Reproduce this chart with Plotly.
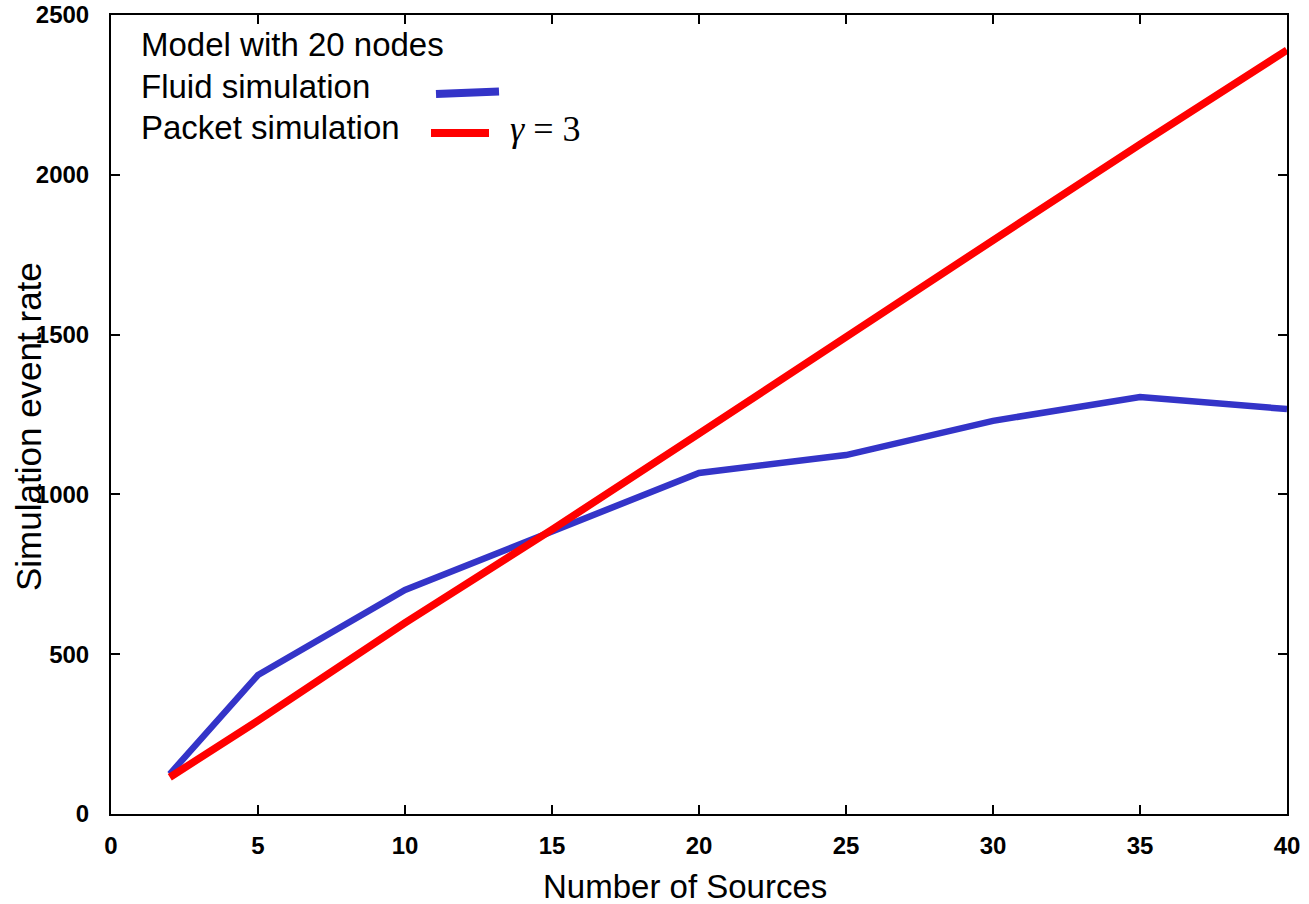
import plotly.graph_objects as go

# Data
fluid_x = [2, 5, 10, 15, 20, 25, 30, 35, 40]
fluid_y = [125, 435, 701, 884, 1067, 1123, 1230, 1305, 1267]
packet_x = [2, 5, 10, 15, 20, 25, 30, 35, 40]
packet_y = [115, 292, 598, 890, 1190, 1495, 1795, 2095, 2390]

x_ticks = [0, 5, 10, 15, 20, 25, 30, 35, 40]
y_ticks = [0, 500, 1000, 1500, 2000, 2500]

legend_title = "Model with 20 nodes"
fluid_name = "Fluid simulation"
packet_name = "Packet simulation"
gamma_label = "<i>γ</i> = 3"

BLUE = "#3434c8"
RED = "#ff0000"

fig = go.Figure()
fig.add_trace(go.Scatter(x=fluid_x, y=fluid_y, mode="lines", name=fluid_name,
                         line=dict(color=BLUE, width=6.5), showlegend=False))
fig.add_trace(go.Scatter(x=packet_x, y=packet_y, mode="lines", name=packet_name,
                         line=dict(color=RED, width=7.5), showlegend=False))

W, H = 1309, 904
L, R, T, B = 111, 22, 15, 90
pw, ph = W - L - R, H - T - B

def px(x):
    return (x - L) / pw

def py(y):
    return (H - B - y) / ph

tickfont = dict(family="Liberation Sans, Arial, sans-serif", size=24, color="black", weight="bold")
axis_common = dict(showline=True, linecolor="black", linewidth=2, mirror="ticks",
                   ticks="inside", ticklen=9, tickwidth=2, tickcolor="black",
                   showgrid=False, zeroline=False, tickfont=tickfont)

fig.update_xaxes(range=[0, 40], tickvals=x_ticks, ticktext=[str(v) for v in x_ticks],
                 ticklabelstandoff=9, **axis_common)
fig.update_yaxes(range=[0, 2500], tickvals=y_ticks, ticktext=[str(v) for v in y_ticks],
                 ticklabelstandoff=15, **axis_common)

textfont = dict(family="Liberation Sans, Arial, sans-serif", size=33, color="black")
annotations = [
    dict(text="Number of Sources", x=px(685), xref="paper", y=py(886), yref="paper",
         showarrow=False, font=textfont, xanchor="center", yanchor="middle"),
    dict(text="Simulation event rate", x=px(28), xref="paper", y=py(427), yref="paper",
         showarrow=False, font=dict(family="Liberation Sans, Arial, sans-serif", size=35, color="black"),
         textangle=-90, xanchor="center", yanchor="middle"),
    dict(text=legend_title, x=px(139), y=py(45), xref="paper", yref="paper", showarrow=False,
         font=textfont, xanchor="left", yanchor="middle"),
    dict(text=fluid_name, x=px(139), y=py(86), xref="paper", yref="paper", showarrow=False,
         font=textfont, xanchor="left", yanchor="middle"),
    dict(text=packet_name, x=px(139), y=py(127), xref="paper", yref="paper", showarrow=False,
         font=textfont, xanchor="left", yanchor="middle"),
    dict(text=gamma_label, x=px(508), y=py(129), xref="paper", yref="paper", showarrow=False,
         font=dict(family="Liberation Serif, Times New Roman, serif", size=36, color="black"),
         xanchor="left", yanchor="middle"),
]

shapes = [
    dict(type="line", xref="paper", yref="paper", x0=px(436), y0=py(94), x1=px(499), y1=py(91.5),
         line=dict(color=BLUE, width=8)),
    dict(type="line", xref="paper", yref="paper", x0=px(431), y0=py(133), x1=px(489), y1=py(133),
         line=dict(color=RED, width=8)),
]

fig.update_layout(width=W, height=H, margin=dict(l=L, r=R, t=T, b=B, autoexpand=False),
                  plot_bgcolor="white", paper_bgcolor="white",
                  annotations=annotations, shapes=shapes, showlegend=False)

fig.write_html("out.html")
